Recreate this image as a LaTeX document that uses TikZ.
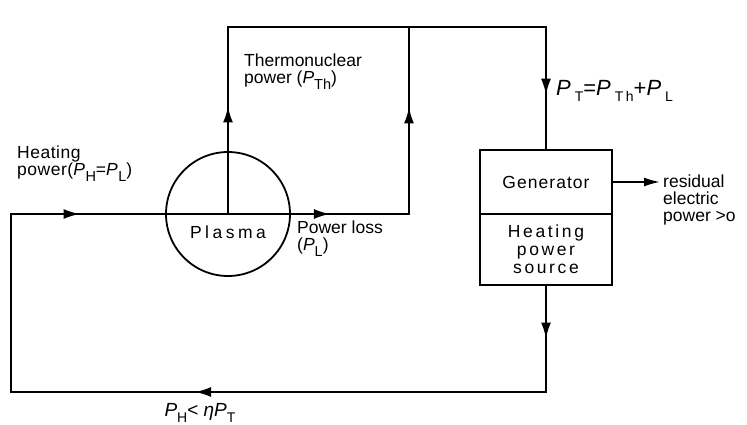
\documentclass[tikz,border=0pt]{standalone}
\usepackage{fontspec}
\setmainfont{Liberation Sans}
\usetikzlibrary{positioning, arrows.meta, decorations.markings}

\newcommand{\Pq}[2][14.5]{\textit{P}\raisebox{-0.3em}{\fontsize{#1}{#1}\selectfont #2}}

\tikzstyle{line} = [line width=1.8pt, line cap=rect]
\tikzstyle{arrow} = [line width=1.8pt, -{Latex[length=16pt,width=9pt]}]
\tikzstyle{block} = [
    rectangle,
    minimum width=132pt,
    outer sep=0pt,
    align=center,
    line width=1.8pt,
    draw=black
]
\tikzstyle{ring} = [
    circle,
    minimum size=124pt,
    inner sep=0pt,
    line width=1.8pt,
    draw=black
]
\tikzstyle{txt} = [align=left, inner sep=0pt]
\tikzset{midarrow/.style={
    line width=1.8pt, line cap=rect,
    decoration={markings,
        mark=at position #1 with {\arrow{Latex[length=16pt,width=10pt]}}},
    postaction={decorate}
}}

\begin{document}
\begin{tikzpicture}[x=1pt, y=-1pt, font=\fontsize{17.5}{17}\selectfont]
\useasboundingbox (0,0) rectangle (747,425);

\node (plasma) [ring] at (228,214) {};
\node (gen) [block, minimum height=64pt,
    font=\fontsize{17.5}{17}\selectfont\addfontfeature{LetterSpace=6}]
    at (546,182) {Generator};
\node (src) [block, minimum height=71pt, below=0pt of gen,
    font=\fontsize{17.5}{18}\selectfont\addfontfeature{LetterSpace=15}]
    {Heating\\power\\source};

\coordinate (bl) at (11,392);
\coordinate (tl) at (11,214);
\coordinate (lossend) at (409,214);
\coordinate (lossup) at (409,27);
\coordinate (thtop) at (228,27);
\coordinate (tr) at (546,27);
\coordinate (br) at (546,392);
\coordinate (resid) at (660,182);

\draw [line] (bl) -- (tl);
\draw [midarrow=0.445] (tl) -- (plasma.west);
\draw [line] (plasma.west) -- (plasma.east);
\draw [midarrow=0.33] (plasma.east) -- (lossend);
\draw [midarrow=0.575] (plasma.center) -- (thtop);
\draw [line] (thtop) -- (tr);
\draw [midarrow=0.57] (lossend) -- (lossup);
\draw [midarrow=0.55] (tr) -- (gen.north);
\draw [arrow] (gen.east) -- (resid);
\draw [midarrow=0.5] (src.south) -- (br);
\draw [midarrow=0.656] (br) -- (bl);

\node (heatlbl) [txt, anchor=north west,
    font=\fontsize{17.5}{17}\selectfont\addfontfeature{LetterSpace=3}]
    at (17,146) {Heating\\power(\Pq{H}=\Pq{L})};
\node (thlbl) [txt, anchor=north west] at (244,54)
{Thermonuclear\\power (\Pq{Th})};
\node (plasmalbl) [font=\fontsize{17.5}{17}\selectfont\addfontfeature{LetterSpace=20}]
    at (228,232) {Plasma};
\node (losslbl) [txt, anchor=north west] at (297,221)
{Power loss\\(\Pq{L})};
\node (ptlbl) [anchor=west, inner sep=0pt,
    font=\fontsize{22}{22}\selectfont\addfontfeature{LetterSpace=18}]
    at (556,91) {\Pq[14]{T}=\Pq[14]{Th}+\Pq[14]{L}};
\node (residlbl) [txt, anchor=north west] at (663,175)
{residual\\electric\\power >o};
\node (phlbl) [font=\fontsize{19}{19}\selectfont] at (200,413)
{\Pq[14]{H}< \textit{η}\Pq[14]{T}};

\end{tikzpicture}
\end{document}
